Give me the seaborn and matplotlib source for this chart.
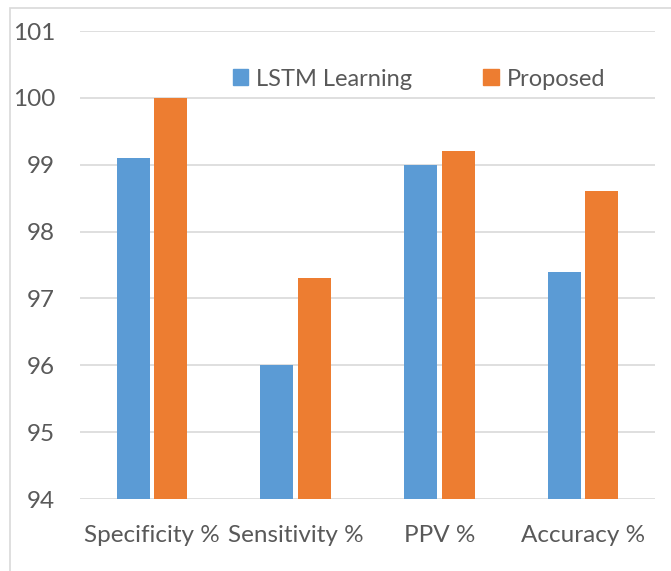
import matplotlib
matplotlib.use("Agg")
import matplotlib.pyplot as plt
import matplotlib.patches as mpatches
import seaborn as sns
import pandas as pd

categories = ["Specificity %", "Sensitivity %", "PPV %", "Accuracy %"]
lstm_values = [99.1, 96.0, 99.0, 97.4]
proposed_values = [100.0, 97.3, 99.2, 98.6]
series_names = ["LSTM Learning", "Proposed"]
y_ticks = [94, 95, 96, 97, 98, 99, 100, 101]

df = pd.DataFrame({
    "category": categories * 2,
    "value": lstm_values + proposed_values,
    "series": [series_names[0]] * len(categories) + [series_names[1]] * len(categories),
})

sns.set_theme(style="white")
plt.rcParams["font.family"] = ["Lato", "DejaVu Sans"]

W, H = 671, 571
fig = plt.figure(figsize=(W / 100, H / 100), dpi=100)
ax = fig.add_axes([80 / W, 1 - 499 / H, (655 - 80) / W, (499 - 31) / H])

text_color = "#595959"
grid_color = "#D9D9D9"
palette = {series_names[0]: "#5B9BD5", series_names[1]: "#ED7D31"}

ax.set_axisbelow(True)
for t in y_ticks:
    ax.axhline(t, color=grid_color, lw=1.2, zorder=0)

sns.barplot(data=df, x="category", y="value", hue="series", palette=palette,
            width=0.52, gap=0.12, ax=ax, legend=False, saturation=1, linewidth=0)

ax.set_ylim(94, 101)
ax.set_xlim(-0.5, 3.5)
ax.set_yticks(y_ticks)
ax.set_yticklabels([str(t) for t in y_ticks])
ax.set_xlabel("")
ax.set_ylabel("")
for s in ax.spines.values():
    s.set_visible(False)
ax.tick_params(axis="y", length=0, pad=18, labelsize=17.5, labelcolor=text_color)
ax.tick_params(axis="x", length=0, pad=19, labelsize=17.5, labelcolor=text_color)

handles = [mpatches.Patch(color=palette[n]) for n in series_names]
leg = ax.legend(handles, series_names, loc="center", bbox_to_anchor=(419 / W, 1 - 79 / H),
                bbox_transform=fig.transFigure, ncol=2, frameon=False,
                fontsize=17, handlelength=0.65, handleheight=0.65, handletextpad=0.35,
                columnspacing=3.0, labelcolor=text_color)

border = mpatches.Rectangle((10 / W, -0.2), 1.2, 1.2 - 8 / H, transform=fig.transFigure,
                            fill=False, edgecolor=grid_color, lw=1.2)
fig.patches.append(border)

fig.savefig("out.png", dpi=100)
